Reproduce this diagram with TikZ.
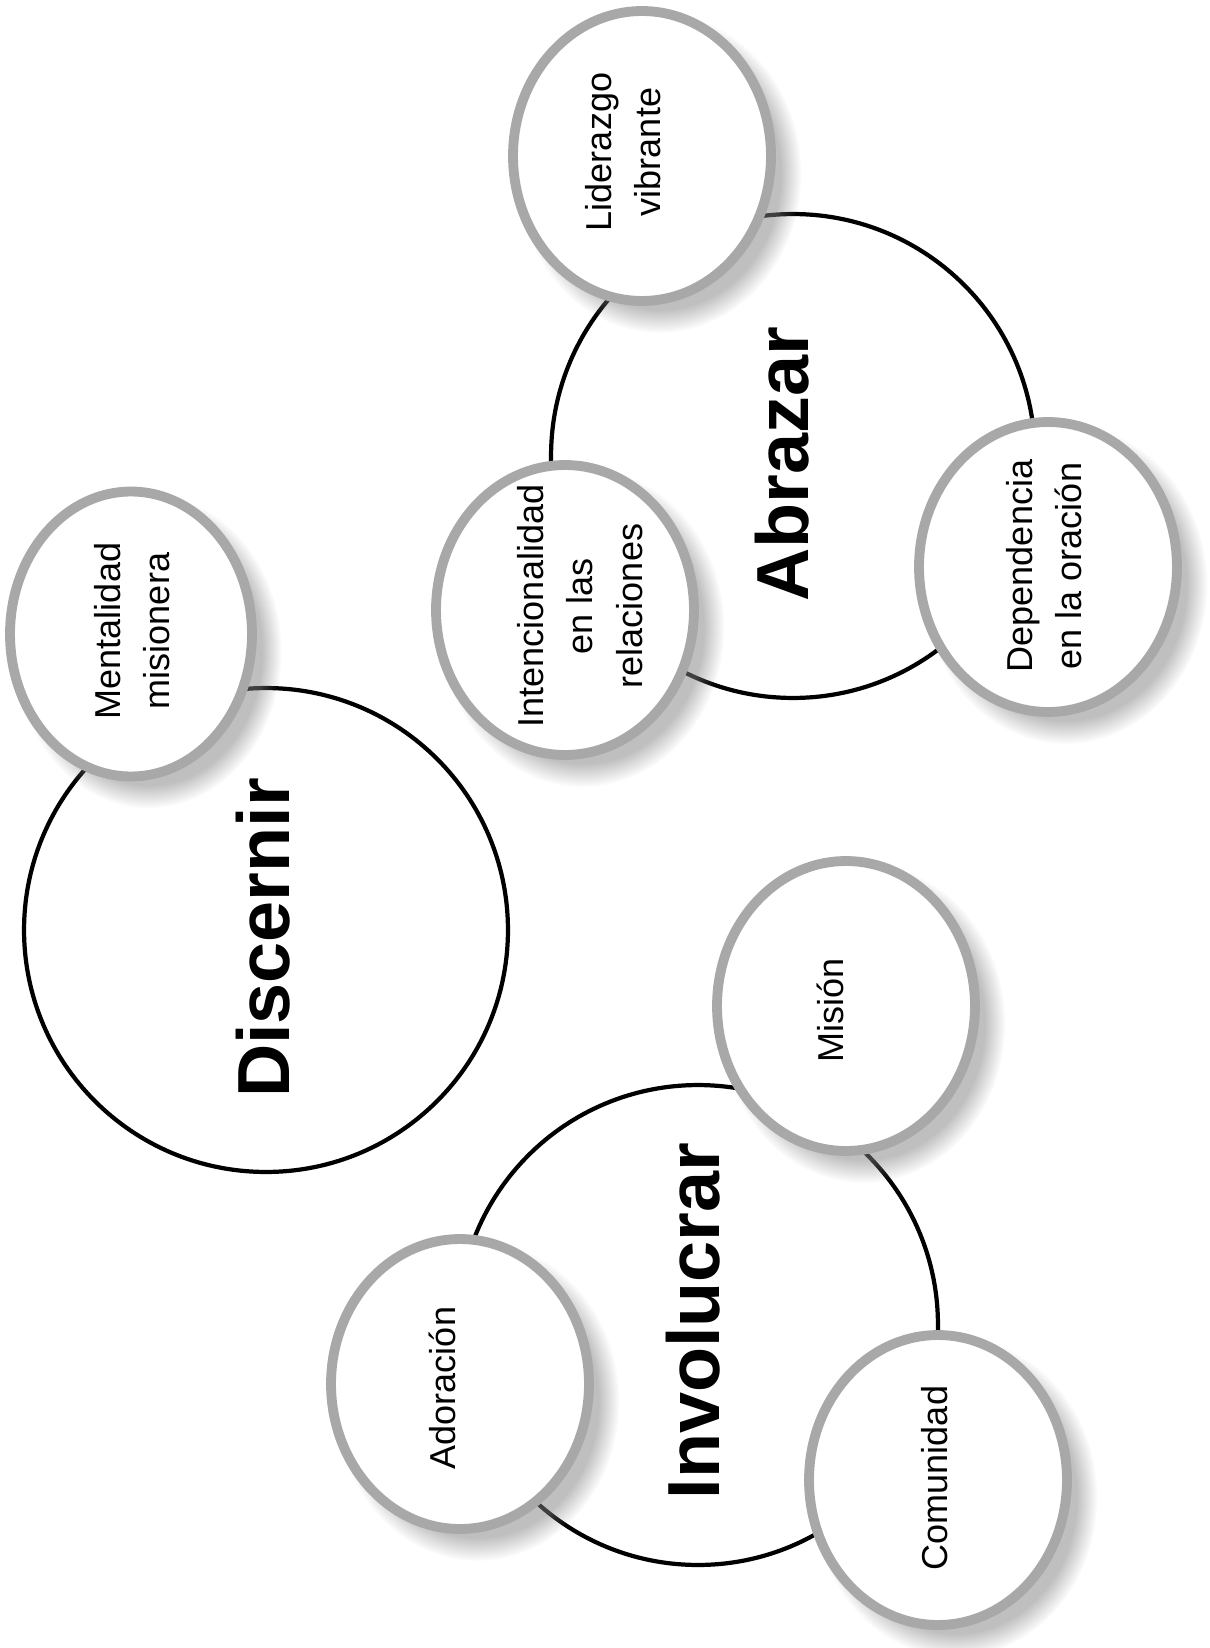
\documentclass[tikz,border=0pt]{standalone}
\usepackage{fontspec}
\setmainfont{Liberation Sans}
\usetikzlibrary{shapes,shadows,calc}
\definecolor{ringgray}{RGB}{168,168,168}

\begin{document}
\begin{tikzpicture}[x=0.02cm,y=-0.02cm,
  hub/.style={circle,draw=black,line width=2.4pt,inner sep=0pt,minimum size=9.68cm},
  word/.style={rotate=90,inner sep=0pt,font=\fontsize{42}{48}\selectfont\bfseries},
  bubble/.style={ellipse,draw=ringgray,line width=5.6pt,fill=white,inner sep=0pt,
    minimum width=5.16cm,minimum height=5.8cm,
    circular drop shadow={shadow xshift=9pt,shadow yshift=-9pt,shadow scale=1.1,opacity=.5}},
  tag/.style={rotate=90,align=center,inner sep=0pt,font=\fontsize{20.5}{28}\selectfont}]
\useasboundingbox (0,0) rectangle (1209,1648);
% the three big circles
\node[hub] (disc) at (266,930) {};
\node[hub] (abra) at (793,456) {};
\node[hub,minimum size=9.6cm] (invo) at (698,1325) {};
\node[word] (discW) at (263,938) {Discernir};
\node[word] (abraW) at (782,464) {Abrazar};
\node[word] (invoW) at (693,1321) {Involucrar};
% the small bubbles
\node[bubble,minimum width=4.84cm,minimum height=5.7cm] (ment) at (131,634) {};
\node[bubble] (lide) at (642,156) {};
\node[bubble] (inte) at (565,610) {};
\node[bubble] (depe) at (1048,567) {};
\node[bubble] (misi) at (846,1006) {};
\node[bubble] (ador) at (460,1384) {};
\node[bubble] (comu) at (938,1480) {};
\node[tag] (mentT) at (132,631) {Mentalidad\\misionera};
\node[tag] (lideT) at (623,152) {Liderazgo\\vibrante};
\node[tag] (inteT) at (580,606) {Intencionalidad\\en las\\relaciones};
\node[tag] (depeT) at (1044,566) {Dependencia\\en la oración};
\node[tag] (misiT) at (830,1010) {Misión};
\node[tag] (adorT) at (442,1388) {Adoración};
\node[tag] (comuT) at (935,1478) {Comunidad};
\end{tikzpicture}
\end{document}
